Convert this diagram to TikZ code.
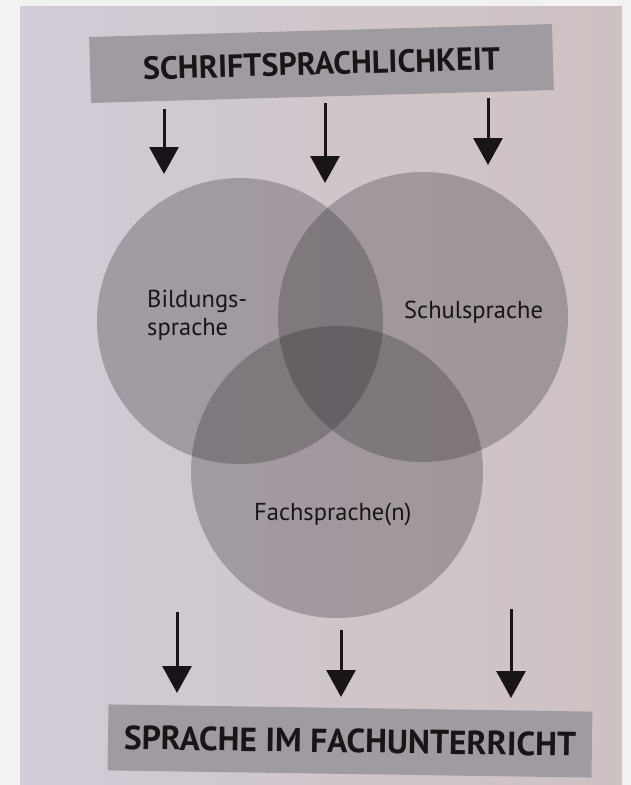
\documentclass[tikz,border=0pt]{standalone}
\usepackage{fontspec}
\setmainfont{PT Sans}
\usetikzlibrary{arrows.meta}
\definecolor{outer}{RGB}{242,242,242}
\definecolor{pageL}{RGB}{209,204,215}
\definecolor{pageR}{RGB}{206,193,194}
\definecolor{barfill}{RGB}{160,155,160}
\definecolor{setfill}{RGB}{40,36,40}
\definecolor{ink}{RGB}{24,20,24}
\begin{document}
\begin{tikzpicture}[x=1pt,y=-1pt,
  titlebar/.style={fill=barfill, minimum height=66pt, inner sep=0pt, text=ink,
    font=\bfseries\fontsize{32}{32}\selectfont},
  setcircle/.style={circle, fill=setfill, fill opacity=0.28, minimum size=#1, inner sep=0pt},
  setname/.style={inner sep=0pt, text=ink, font=\fontsize{24.5}{28}\selectfont},
  flow/.style={line width=3pt, draw=ink, -{Triangle[width=29pt,length=27pt]}}
]
\useasboundingbox (0,0) rectangle (631,785);
% page
\fill[outer] (0,0) rectangle (631,785);
\shade[left color=pageL, right color=pageR] (20,6) rectangle (622,785);

% title bars
\node[titlebar, minimum width=463pt, rotate=1.6] (top) at (321.5,63.5) {SCHRIFTSPRACHLICHKEIT};
\node[titlebar, minimum width=484pt, rotate=-0.85, font=\bfseries\fontsize{33.5}{33.5}\selectfont] (bottom) at (350,741) {SPRACHE IM FACHUNTERRICHT};

% the three overlapping sets
\node[setcircle=286pt] (bild) at (240,321) {};
\node[setcircle=290pt] (schul) at (423,317) {};
\node[setcircle=292pt] (fach) at (337,472) {};

\node[setname, anchor=north west, align=left] (bildlabel) at (147,290) {Bildungs-\\sprache};
\node[setname, anchor=base west] (schullabel) at (404,318) {Schulsprache};
\node[setname, anchor=base west] (fachlabel) at (254,520) {Fachsprache(n)};

% arrows from the top bar
\coordinate (t1a) at (164,109); \coordinate (t1b) at (164,174);
\coordinate (t2a) at (325,103); \coordinate (t2b) at (325,183);
\coordinate (t3a) at (488,98);  \coordinate (t3b) at (488,165);
\draw[flow] (t1a) -- (t1b);
\draw[flow] (t2a) -- (t2b);
\draw[flow] (t3a) -- (t3b);

% arrows to the bottom bar
\coordinate (b1a) at (177,612); \coordinate (b1b) at (177,693);
\coordinate (b2a) at (341,630); \coordinate (b2b) at (341,697);
\coordinate (b3a) at (511,609); \coordinate (b3b) at (511,698);
\draw[flow] (b1a) -- (b1b);
\draw[flow] (b2a) -- (b2b);
\draw[flow] (b3a) -- (b3b);
\end{tikzpicture}
\end{document}
